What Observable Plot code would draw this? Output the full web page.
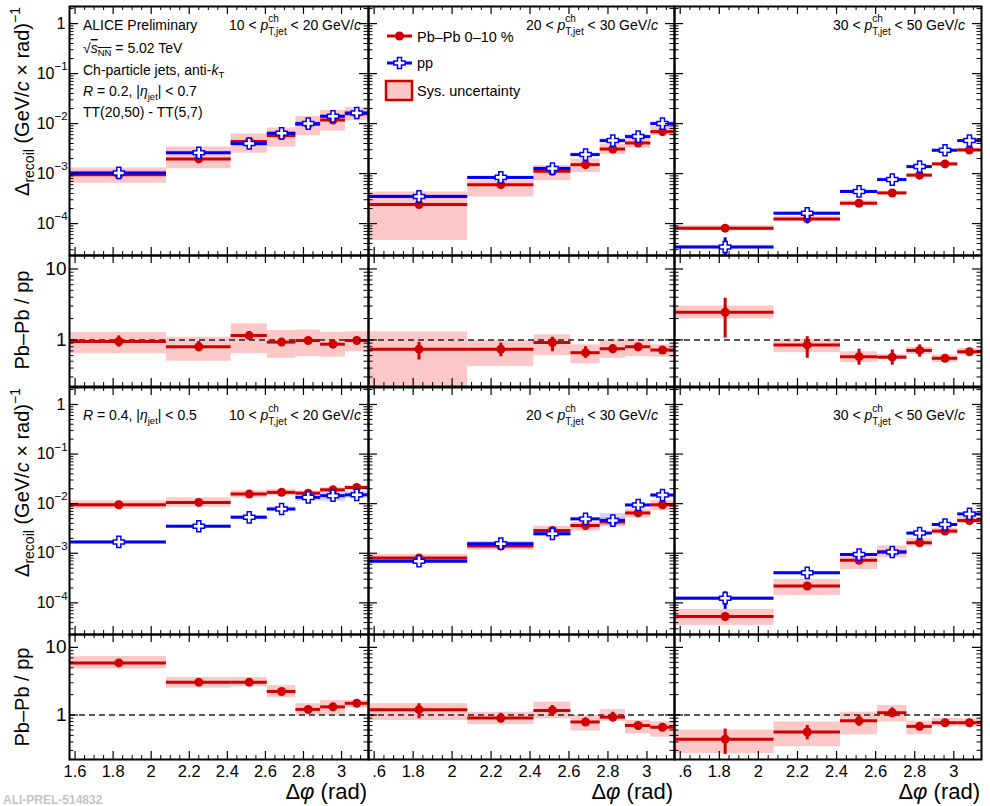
<!DOCTYPE html>
<html><head><meta charset="utf-8">
<script src="https://cdn.jsdelivr.net/npm/d3@7"></script>
<script src="https://cdn.jsdelivr.net/npm/@observablehq/plot@0.6"></script>
<style>
body{margin:0;background:#fff;}
#wrap{position:relative;width:990px;height:806px;overflow:hidden;background:#fff;font-family:"Liberation Sans",Arial,Helvetica,sans-serif;}
#wrap svg.panel{position:absolute;overflow:visible;background:transparent;max-width:none;}
#wrap svg.overlay{position:absolute;left:0;top:0;pointer-events:none;overflow:visible;}
</style></head><body><div id="wrap"></div>
<script>
// ---------- bins (Delta phi, rad) ----------
const binEdges   = [1.5708, 2.08, 2.42, 2.61, 2.76, 2.89, 3.02, 3.1416];
const binCenters = [1.83, 2.25, 2.515, 2.685, 2.825, 2.955, 3.08];

// ---------- R = 0.2, 10 < pT < 20 ----------
const pbpb_R02_a    = [9.5e-4, 1.97e-3, 4.4e-3, 5.75e-3, 9.7e-3, 1.18e-2, 1.57e-2];
const pbpbSys_R02_a = [[6.4e-4,1.3e-3],[1.25e-3,3.4e-3],[2.56e-3,6.2e-3],[3.4e-3,8.2e-3],[5.75e-3,1.38e-2],[7.1e-3,1.83e-2],[1.15e-2,2.1e-2]];
const pp_R02_a      = [1.03e-3, 2.6e-3, 4.0e-3, 6.4e-3, 1.0e-2, 1.40e-2, 1.63e-2];
const ppSys_R02_a   = [[0.95e-3,1.12e-3],[2.4e-3,2.8e-3],[3.5e-3,4.6e-3],[5.9e-3,6.9e-3],[9.3e-3,1.08e-2],[1.3e-2,1.5e-2],[1.5e-2,1.77e-2]];
const ppStat_R02_a  = [[9.2e-4,1.15e-3],[2.35e-3,2.85e-3],[3.6e-3,4.45e-3],[5.8e-3,7.0e-3],[9.2e-3,1.09e-2],[1.3e-2,1.5e-2],[1.52e-2,1.75e-2]];
const ratio_R02_a     = [0.95, 0.80, 1.15, 0.93, 0.98, 0.87, 0.98];
const ratioStat_R02_a = [[0.79,1.14],[0.68,0.95],[1.02,1.31],[0.84,1.03],[0.92,1.05],[0.82,0.93],[0.93,1.03]];
const ratioSys_R02_a  = [[0.64,1.27],[0.50,1.09],[0.64,1.68],[0.55,1.35],[0.58,1.38],[0.57,1.28],[0.68,1.30]];

// ---------- R = 0.2, 20 < pT < 30 ----------
const pbpb_R02_b    = [2.4e-4, 6.0e-4, 1.11e-3, 1.51e-3, 3.1e-3, 4.1e-3, 6.9e-3];
const pbpbSys_R02_b = [[4.6e-5,4.3e-4],[3.4e-4,7.2e-4],[7.2e-4,1.44e-3],[1.05e-3,1.96e-3],[2.4e-3,3.9e-3],[3.2e-3,5.2e-3],[5.8e-3,8.7e-3]];
const pp_R02_b      = [3.5e-4, 8.4e-4, 1.26e-3, 2.4e-3, 4.57e-3, 5.5e-3, 1.0e-2];
const ppSys_R02_b   = [[3.2e-4,3.8e-4],[7.9e-4,9.0e-4],[1.17e-3,1.36e-3],[2.25e-3,2.6e-3],[4.2e-3,5.0e-3],[5.1e-3,6.0e-3],[9.3e-3,1.08e-2]];
const ppStat_R02_b  = [[2.8e-4,4.4e-4],[7.8e-4,9.1e-4],[1.17e-3,1.36e-3],[2.25e-3,2.55e-3],[4.3e-3,4.85e-3],[5.2e-3,5.8e-3],[9.5e-3,1.06e-2]];
const ratio_R02_b     = [0.74, 0.74, 0.92, 0.66, 0.75, 0.80, 0.72];
const ratioStat_R02_b = [[0.52,0.92],[0.58,0.90],[0.68,1.09],[0.55,0.80],[0.66,0.86],[0.73,0.88],[0.68,0.76]];
const ratioSys_R02_b  = [[0.15,1.30],[0.42,0.98],[0.60,1.18],[0.46,0.85],[0.55,1.0],[0.58,1.02],[0.57,0.85]];

// ---------- R = 0.2, 30 < pT < 50 ----------
const pbpb_R02_c    = [8.1e-5, 1.24e-4, 2.55e-4, 4.1e-4, 9.3e-4, 1.56e-3, 2.97e-3];
const pbpbSys_R02_c = [[7.2e-5,9.2e-5],[1.12e-4,1.38e-4],[2.3e-4,2.85e-4],[3.8e-4,4.45e-4],[8.6e-4,1.0e-3],[1.45e-3,1.68e-3],[2.75e-3,3.2e-3]];
const pp_R02_c      = [3.4e-5, 1.61e-4, 4.4e-4, 7.6e-4, 1.38e-3, 2.93e-3, 4.57e-3];
const ppSys_R02_c   = [[3.1e-5,3.7e-5],[1.5e-4,1.72e-4],[4.1e-4,4.7e-4],[7.1e-4,8.1e-4],[1.3e-3,1.46e-3],[2.78e-3,3.1e-3],[4.35e-3,4.8e-3]];
const ppStat_R02_c  = [[1e-5,5.2e-5],[1.0e-4,1.94e-4],[3.9e-4,5.0e-4],[7.0e-4,8.3e-4],[1.3e-3,1.47e-3],[2.8e-3,3.07e-3],[4.4e-3,4.75e-3]];
const ratio_R02_c     = [2.45, 0.85, 0.58, 0.57, 0.71, 0.55, 0.68];
const ratioStat_R02_c = [[1.06,3.87],[0.55,1.11],[0.44,0.74],[0.44,0.72],[0.57,0.85],[0.51,0.60],[0.64,0.73]];
const ratioSys_R02_c  = [[1.97,3.0],[0.66,1.02],[0.48,0.68],[0.53,0.62],[0.62,0.79],[0.48,0.61],[0.61,0.76]];

// ---------- R = 0.4, 10 < pT < 20 ----------
const pbpb_R04_a    = [9.5e-3, 1.06e-2, 1.56e-2, 1.69e-2, 1.63e-2, 1.9e-2, 2.12e-2];
const pbpbSys_R04_a = [[7.8e-3,1.14e-2],[8.5e-3,1.31e-2],[1.31e-2,1.82e-2],[1.45e-2,1.95e-2],[1.45e-2,1.8e-2],[1.7e-2,2.1e-2],[1.95e-2,2.3e-2]];
const pp_R04_a      = [1.69e-3, 3.5e-3, 5.3e-3, 7.8e-3, 1.34e-2, 1.45e-2, 1.51e-2];
const ppSys_R04_a   = [[1.6e-3,1.78e-3],[3.3e-3,3.7e-3],[4.9e-3,5.8e-3],[7.1e-3,8.6e-3],[1.13e-2,1.6e-2],[1.12e-2,1.82e-2],[1.3e-2,1.75e-2]];
const ppStat_R04_a  = [[1.62e-3,1.76e-3],[3.35e-3,3.65e-3],[5.0e-3,5.6e-3],[7.4e-3,8.2e-3],[1.28e-2,1.4e-2],[1.38e-2,1.52e-2],[1.44e-2,1.58e-2]];
const ratio_R04_a     = [5.9, 3.06, 3.06, 2.23, 1.21, 1.32, 1.49];
const ratioStat_R04_a = [[5.4,6.4],[2.9,3.2],[2.85,3.3],[2.05,2.4],[1.15,1.28],[1.24,1.4],[1.42,1.56]];
const ratioSys_R04_a  = [[4.8,7.3],[2.5,3.6],[2.6,3.6],[1.8,2.73],[0.99,1.47],[0.99,1.64],[1.28,1.64]];

// ---------- R = 0.4, 20 < pT < 30 ----------
const pbpb_R04_b    = [8.0e-4, 1.40e-3, 2.88e-3, 3.63e-3, 4.3e-3, 6.5e-3, 9.5e-3];
const pbpbSys_R04_b = [[6.2e-4,9.5e-4],[1.15e-3,1.69e-3],[2.2e-3,3.5e-3],[2.8e-3,4.2e-3],[3.6e-3,5.2e-3],[5.2e-3,7.8e-3],[7.2e-3,1.15e-2]];
const pp_R04_b      = [6.9e-4, 1.56e-3, 2.47e-3, 4.93e-3, 4.57e-3, 9.4e-3, 1.49e-2];
const ppSys_R04_b   = [[6.4e-4,7.5e-4],[1.45e-3,1.68e-3],[2.3e-3,2.65e-3],[4.6e-3,5.3e-3],[3.4e-3,6.3e-3],[8.8e-3,1.0e-2],[1.4e-2,1.6e-2]];
const ppStat_R04_b  = [[5.6e-4,8.2e-4],[1.5e-3,1.62e-3],[2.35e-3,2.6e-3],[4.7e-3,5.15e-3],[4.35e-3,4.8e-3],[9.0e-3,9.8e-3],[1.43e-2,1.55e-2]];
const ratio_R04_b     = [1.20, 0.90, 1.17, 0.79, 0.93, 0.70, 0.66];
const ratioStat_R04_b = [[0.88,1.47],[0.76,1.06],[0.97,1.38],[0.70,0.90],[0.79,1.10],[0.64,0.76],[0.62,0.70]];
const ratioSys_R04_b  = [[0.83,1.47],[0.72,1.10],[0.88,1.55],[0.58,0.99],[0.81,1.21],[0.53,0.83],[0.47,0.79]];

// ---------- R = 0.4, 30 < pT < 50 ----------
const pbpb_R04_c    = [5.3e-5, 2.19e-4, 7.2e-4, 1.06e-3, 1.63e-3, 2.8e-3, 4.57e-3];
const pbpbSys_R04_c = [[3.5e-5,7.4e-5],[1.4e-4,2.95e-4],[4.7e-4,9.1e-4],[8.1e-4,1.4e-3],[1.36e-3,1.96e-3],[2.4e-3,3.2e-3],[4.0e-3,5.3e-3]];
const pp_R04_c      = [1.24e-4, 4.04e-4, 9.4e-4, 1.06e-3, 2.55e-3, 3.8e-3, 6.2e-3];
const ppSys_R04_c   = [[1.15e-4,1.34e-4],[3.8e-4,4.3e-4],[8.8e-4,1.0e-3],[1.0e-3,1.13e-3],[2.4e-3,2.7e-3],[3.6e-3,4.0e-3],[5.9e-3,6.5e-3]];
const ppStat_R04_c  = [[7.4e-5,1.67e-4],[3.7e-4,4.4e-4],[8.9e-4,1.0e-3],[1.0e-3,1.13e-3],[2.42e-3,2.7e-3],[3.6e-3,4.0e-3],[5.9e-3,6.5e-3]];
const ratio_R04_c     = [0.44, 0.56, 0.82, 1.08, 0.68, 0.77, 0.77];
const ratioStat_R04_c = [[0.26,0.62],[0.43,0.70],[0.68,0.98],[0.93,1.27],[0.61,0.76],[0.72,0.82],[0.73,0.81]];
const ratioSys_R04_c  = [[0.27,0.60],[0.34,0.79],[0.51,1.10],[0.79,1.39],[0.51,0.81],[0.67,0.90],[0.67,0.88]];

// ---------- tick labels ----------
const xTicks = [1.6, 1.8, 2.0, 2.2, 2.4, 2.6, 2.8, 3.0];
const xTickLabelsFirst = ["1.6","1.8","2","2.2","2.4","2.6","2.8","3"];
const xTickLabelsOther = [".6","1.8","2","2.2","2.4","2.6","2.8","3"];
const yMainTicks = [1e-4, 1e-3, 1e-2, 1e-1, 1];
const yMainTickBase = ["10","10","10","10","1"];
const yMainTickExp  = ["\u22124","\u22123","\u22122","\u22121",""];
const yRatioTicks = [1, 10];
const yRatioTickLabels = ["1","10"];
const ptLabels = [["10","20"],["20","30"],["30","50"]];

// ---------- style ----------
const FONT = "Liberation Sans, Arial, Helvetica, sans-serif";
const RED = "#d00000", BLUE = "#0000ff";
const RED_BAND = "rgba(240,0,0,0.22)";
const BLUE_BAND = "rgba(40,40,255,0.2)";
const CROSS_R = 5.6;
const xDomain = [Math.PI/2, Math.PI];
const mainDomain = [2.3e-5, 2.2];
const ratioDomain = [0.22, 15.5];
const COLS = [[69,368],[368,674],[674,981]];
const ROWS = {main1:[6,255], ratio1:[255,386], main2:[387,634], ratio2:[634,759]};

const openCross = {draw(ctx, size){
  const r = Math.sqrt(size/Math.PI), w = r*0.36;
  ctx.moveTo(-w,-r); ctx.lineTo(w,-r); ctx.lineTo(w,-w); ctx.lineTo(r,-w); ctx.lineTo(r,w);
  ctx.lineTo(w,w); ctx.lineTo(w,r); ctx.lineTo(-w,r); ctx.lineTo(-w,w); ctx.lineTo(-r,w);
  ctx.lineTo(-r,-w); ctx.lineTo(-w,-w); ctx.closePath();
}};

// tick positions
const xMinor = d3.range(32, 63).filter(i => i % 4 !== 0).map(i => i*0.05);
function logMinor(dom){
  const out = [];
  for (let e = -6; e <= 2; e++) for (let k = 2; k <= 9; k++){ const v = k*Math.pow(10,e); if (v >= dom[0] && v <= dom[1]) out.push(v); }
  return out;
}
const mainMinor = logMinor(mainDomain);
const ratioMinor = logMinor(ratioDomain);

function zip(values, sys, stat){
  return binCenters.map((c,i)=>({c, lo: binEdges[i], hi: binEdges[i+1], v: values[i],
    s0: sys ? sys[i][0] : null, s1: sys ? sys[i][1] : null,
    e0: stat ? stat[i][0] : null, e1: stat ? stat[i][1] : null}));
}

const wrap = document.getElementById("wrap");

function axesMarks(col, rowKey, isRatio, fw, fh){
  const yMaj = isRatio ? yRatioTicks : yMainTicks;
  const yMin = isRatio ? ratioMinor : mainMinor;
  const m = [
    Plot.tickX(xTicks, {x: d=>d, insetTop: fh-8, stroke:"#000", strokeWidth:1.2}),
    Plot.tickX(xTicks, {x: d=>d, insetBottom: fh-8, stroke:"#000", strokeWidth:1.2}),
    Plot.tickX(xMinor, {x: d=>d, insetTop: fh-4, stroke:"#000", strokeWidth:1}),
    Plot.tickX(xMinor, {x: d=>d, insetBottom: fh-4, stroke:"#000", strokeWidth:1}),
    Plot.tickY(yMaj, {y: d=>d, insetRight: fw-9, stroke:"#000", strokeWidth:1.2}),
    Plot.tickY(yMaj, {y: d=>d, insetLeft: fw-9, stroke:"#000", strokeWidth:1.2}),
    Plot.tickY(yMin, {y: d=>d, insetRight: fw-4.5, stroke:"#000", strokeWidth:1}),
    Plot.tickY(yMin, {y: d=>d, insetLeft: fw-4.5, stroke:"#000", strokeWidth:1}),
    Plot.frame({stroke:"#000", strokeWidth:2})
  ];
  if (col === 0){
    if (isRatio){
      m.push(Plot.text(yRatioTicks, {y: d=>d, text: (d,i)=>yRatioTickLabels[i], frameAnchor:"left", textAnchor:"end", dx:-3, fontSize:19, fontFamily:FONT, fill:"#000"}));
    } else {
      const rows = yMainTicks.map((v,i)=>({v, base: yMainTickBase[i], exp: yMainTickExp[i]}));
      const dec = rows.filter(r => r.exp !== "");
      const unit = rows.filter(r => r.exp === "");
      m.push(Plot.text(dec, {y:"v", text:"base", frameAnchor:"left", textAnchor:"end", dx:-15, fontSize:16, fontFamily:FONT, fill:"#000"}));
      m.push(Plot.text(dec, {y:"v", text:"exp", frameAnchor:"left", textAnchor:"start", dx:-15, dy:-7, fontSize:11.5, fontFamily:FONT, fill:"#000"}));
      m.push(Plot.text(unit, {y:"v", text:"base", frameAnchor:"left", textAnchor:"end", dx:-4, fontSize:16, fontFamily:FONT, fill:"#000"}));
    }
  }
  if (rowKey === "ratio2"){
    const labels = col === 0 ? xTickLabelsFirst : xTickLabelsOther;
    const rest = xTicks.map((v,i)=>({v, t: labels[i]})).slice(1);
    const first = [{v: xTicks[0], t: labels[0]}];
    m.push(Plot.text(rest, {x:"v", text:"t", frameAnchor:"bottom", lineAnchor:"top", dy:6, fontSize:16.5, fontFamily:FONT, fill:"#000"}));
    if (col === 0) m.push(Plot.text(first, {x:"v", text:"t", frameAnchor:"bottom", lineAnchor:"top", dy:6, fontSize:16.5, fontFamily:FONT, fill:"#000"}));
    else m.push(Plot.text(first, {x:"v", text:"t", frameAnchor:"bottom", lineAnchor:"top", textAnchor:"start", dx:-2, dy:6, fontSize:16.5, fontFamily:FONT, fill:"#000"}));
  }
  return m;
}

function place(col, rowKey, isRatio, dataMarks){
  const [x0,x1] = COLS[col], [y0,y1] = ROWS[rowKey];
  const ml = col === 0 ? 69 : 2, mr = 2, mt = 2, mb = rowKey === "ratio2" ? 40 : 2;
  const fw = x1-x0, fh = y1-y0;
  const svg = Plot.plot({
    width: fw+ml+mr, height: fh+mt+mb,
    marginLeft: ml, marginRight: mr, marginTop: mt, marginBottom: mb,
    x: {domain: xDomain, axis: null},
    y: {type: "log", domain: isRatio ? ratioDomain : mainDomain, axis: null},
    style: {background: "transparent", overflow: "visible"},
    marks: [...dataMarks, ...axesMarks(col, rowKey, isRatio, fw, fh)]
  });
  svg.classList.add("panel");
  svg.style.left = (x0-ml) + "px";
  svg.style.top = (y0-mt) + "px";
  wrap.appendChild(svg);
}

function mainPanel(col, rowKey, pbV, pbSys, ppV, ppSys, ppStat){
  const pb = zip(pbV, pbSys), pp = zip(ppV, ppSys, ppStat);
  place(col, rowKey, false, [
    Plot.rect(pb, {x1:"lo", x2:"hi", y1:"s0", y2:"s1", fill: RED_BAND, clip:true}),
    Plot.rect(pp, {x1:"lo", x2:"hi", y1:"s0", y2:"s1", fill: BLUE_BAND, clip:true}),
    Plot.ruleY(pb, {y:"v", x1:"lo", x2:"hi", stroke: RED, strokeWidth: 3, clip:true}),
    Plot.dot(pb, {x:"c", y:"v", r:4.5, fill: RED, clip:true}),
    Plot.ruleY(pp, {y:"v", x1:"lo", x2:"hi", stroke: BLUE, strokeWidth: 3, clip:true}),
    Plot.ruleX(pp, {x:"c", y1:"e0", y2:"e1", stroke: BLUE, strokeWidth: 3, clip:true}),
    Plot.dot(pp, {x:"c", y:"v", r:CROSS_R, symbol: openCross, fill:"white", stroke: BLUE, strokeWidth:1.5, clip:true})
  ]);
}

function ratioPanel(col, rowKey, rV, rStat, rSys){
  const rt = zip(rV, rSys, rStat);
  place(col, rowKey, true, [
    Plot.rect(rt, {x1:"lo", x2:"hi", y1:"s0", y2:"s1", fill: RED_BAND, clip:true}),
    Plot.ruleY([1], {stroke:"#222", strokeWidth:1.5, strokeDasharray:"6,4"}),
    Plot.ruleY(rt, {y:"v", x1:"lo", x2:"hi", stroke: RED, strokeWidth: 3, clip:true}),
    Plot.ruleX(rt, {x:"c", y1:"e0", y2:"e1", stroke: RED, strokeWidth: 3, clip:true}),
    Plot.dot(rt, {x:"c", y:"v", r:4.5, fill: RED, clip:true})
  ]);
}

mainPanel(0, "main1", pbpb_R02_a, pbpbSys_R02_a, pp_R02_a, ppSys_R02_a, ppStat_R02_a);
mainPanel(1, "main1", pbpb_R02_b, pbpbSys_R02_b, pp_R02_b, ppSys_R02_b, ppStat_R02_b);
mainPanel(2, "main1", pbpb_R02_c, pbpbSys_R02_c, pp_R02_c, ppSys_R02_c, ppStat_R02_c);
ratioPanel(0, "ratio1", ratio_R02_a, ratioStat_R02_a, ratioSys_R02_a);
ratioPanel(1, "ratio1", ratio_R02_b, ratioStat_R02_b, ratioSys_R02_b);
ratioPanel(2, "ratio1", ratio_R02_c, ratioStat_R02_c, ratioSys_R02_c);
mainPanel(0, "main2", pbpb_R04_a, pbpbSys_R04_a, pp_R04_a, ppSys_R04_a, ppStat_R04_a);
mainPanel(1, "main2", pbpb_R04_b, pbpbSys_R04_b, pp_R04_b, ppSys_R04_b, ppStat_R04_b);
mainPanel(2, "main2", pbpb_R04_c, pbpbSys_R04_c, pp_R04_c, ppSys_R04_c, ppStat_R04_c);
ratioPanel(0, "ratio2", ratio_R04_a, ratioStat_R04_a, ratioSys_R04_a);
ratioPanel(1, "ratio2", ratio_R04_b, ratioStat_R04_b, ratioSys_R04_b);
ratioPanel(2, "ratio2", ratio_R04_c, ratioStat_R04_c, ratioSys_R04_c);

// ---------- text overlay ----------
const ov = d3.select(wrap).append("svg").attr("class","overlay").attr("width",990).attr("height",806)
  .attr("font-family", FONT);

function rich(x, y, parts, {anchor="start", size=14, rotate=0, fill="#000", weight=null}={}){
  const t = ov.append("text")
    .attr("transform", `translate(${x},${y})` + (rotate ? ` rotate(${rotate})` : ""))
    .attr("text-anchor", anchor).attr("font-size", size).attr("fill", fill)
    .style("white-space","pre");
  if (weight) t.attr("font-weight", weight);
  let cur = 0, prev = null;
  for (const p of parts){
    const ts = t.append("tspan").text(p.t);
    const shift = p.shift || 0;
    if (shift !== cur) ts.attr("dy", shift - cur);
    cur = shift;
    if (p.size) ts.attr("font-size", p.size);
    if (p.italic) ts.attr("font-style","italic");
    if (p.overline) ts.style("text-decoration","overline");
    if (p.back && prev) ts.attr("dx", -prev.node().getComputedTextLength());
    prev = ts;
  }
  return t;
}

// axis titles
rich(29, 7, [{t:"\u0394"},{t:"recoil", size:14, shift:5},{t:" (GeV/"},{t:"c", italic:true},{t:" \u00d7 rad)"},{t:"\u22121", size:14, shift:-9}], {anchor:"end", size:20, rotate:-90});
rich(29, 388, [{t:"\u0394"},{t:"recoil", size:14, shift:5},{t:" (GeV/"},{t:"c", italic:true},{t:" \u00d7 rad)"},{t:"\u22121", size:14, shift:-9}], {anchor:"end", size:20, rotate:-90});
rich(29, 320, [{t:"Pb\u2013Pb / pp"}], {anchor:"middle", size:20, rotate:-90});
rich(29, 697, [{t:"Pb\u2013Pb / pp"}], {anchor:"middle", size:20, rotate:-90});
[367, 673, 980].forEach(x => rich(x, 799, [{t:"\u0394"},{t:"\u03c6", italic:true},{t:" (rad)"}], {anchor:"end", size:22}));

// pT range labels
const ptX = [361, 658, 965];
ptLabels.forEach((r, i) => {
  [30, 420].forEach(y => rich(ptX[i], y, [
    {t: r[0] + " < "}, {t:"p", italic:true}, {t:"ch", size:10, shift:-8}, {t:"T,jet", size:10, shift:5, back:true},
    {t:" < " + r[1] + " GeV/"}, {t:"c", italic:true}], {anchor:"end", size:14}));
});

// ALICE labels
rich(83, 30, [{t:"ALICE Preliminary"}], {size:14});
rich(83, 53, [{t:"\u221a"},{t:"s", italic:true, overline:true},{t:"NN", size:9.5, shift:3, overline:true},{t:" = 5.02 TeV"}], {size:14});
rich(83, 75, [{t:"Ch-particle jets, anti-"},{t:"k", italic:true},{t:"T", size:9.5, shift:3}], {size:14});
rich(83, 96, [{t:"R", italic:true},{t:" = 0.2, |"},{t:"\u03b7", italic:true},{t:"jet", size:9.5, shift:4},{t:"| < 0.7"}], {size:14});
rich(83, 117, [{t:"TT(20,50) - TT(5,7)"}], {size:14});
rich(83, 420, [{t:"R", italic:true},{t:" = 0.4, |"},{t:"\u03b7", italic:true},{t:"jet", size:9.5, shift:4},{t:"| < 0.5"}], {size:14});

// legend
const lg = ov.append("g");
lg.append("line").attr("x1",387).attr("x2",412).attr("y1",36).attr("y2",36).attr("stroke",RED).attr("stroke-width",3);
lg.append("circle").attr("cx",399.5).attr("cy",36).attr("r",4.5).attr("fill",RED);
lg.append("line").attr("x1",387).attr("x2",412).attr("y1",63).attr("y2",63).attr("stroke",BLUE).attr("stroke-width",3);
lg.append("path").attr("transform","translate(399.5,63)").attr("d", d3.symbol(openCross, CROSS_R*CROSS_R*Math.PI)()).attr("fill","white").attr("stroke",BLUE).attr("stroke-width",1.5);
lg.append("rect").attr("x",386).attr("y",81).attr("width",26).attr("height",19).attr("fill","#fbc6c6").attr("stroke",RED).attr("stroke-width",2.5);
rich(417, 42, [{t:"Pb\u2013Pb 0\u201310 %"}], {size:14.5});
rich(417, 68, [{t:"pp"}], {size:14.5});
rich(417, 96, [{t:"Sys. uncertainty"}], {size:14.5});

// watermark
rich(3, 804, [{t:"ALI-PREL-514832"}], {size:12, fill:"#c4c4c4", weight:"bold"});
</script></body></html>
